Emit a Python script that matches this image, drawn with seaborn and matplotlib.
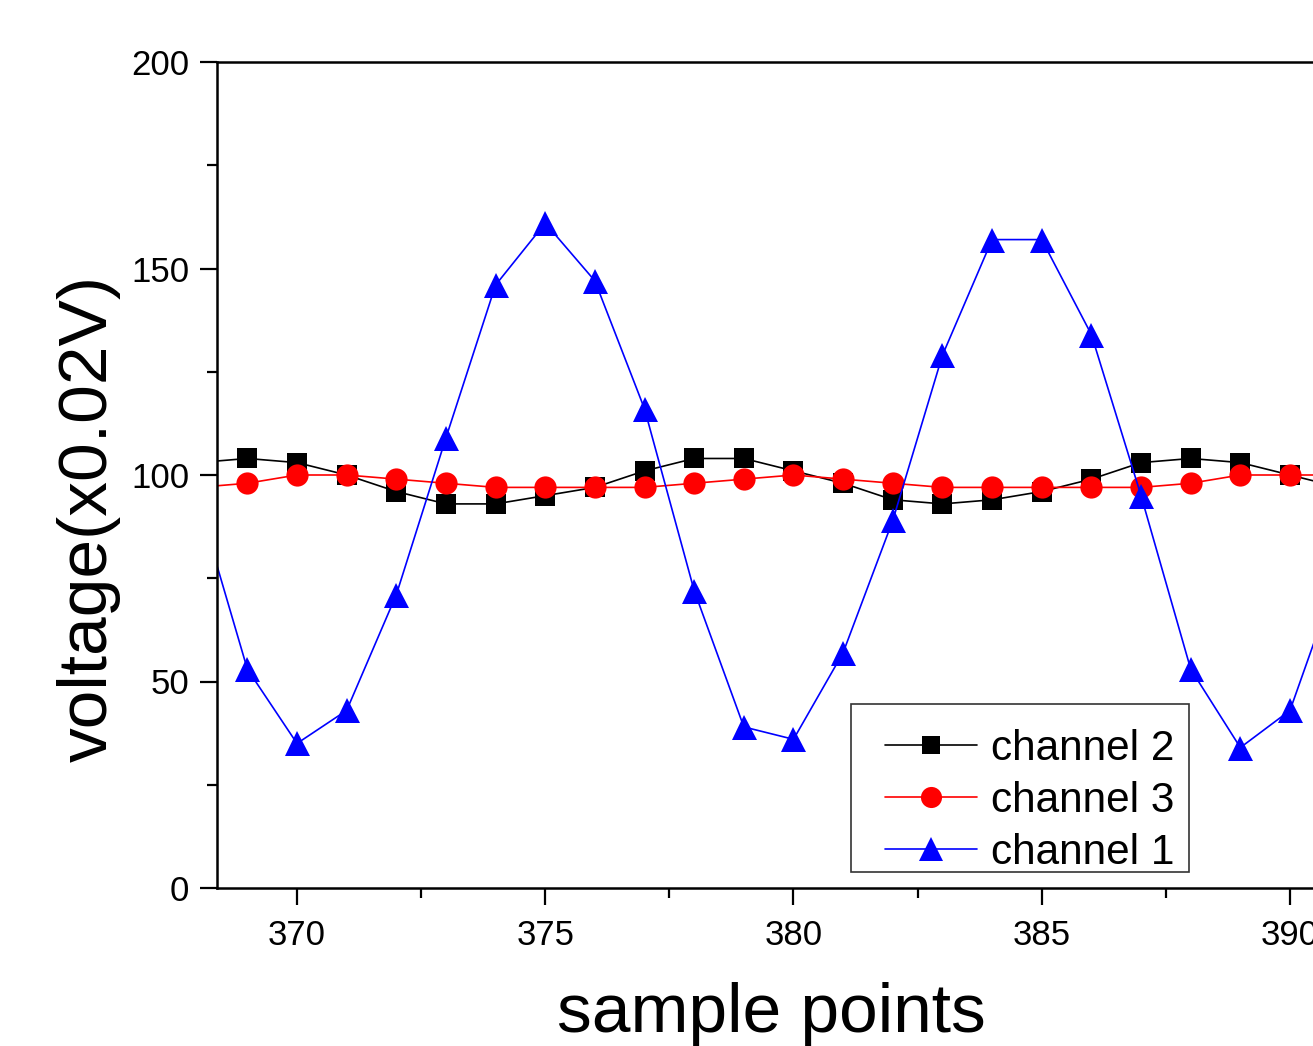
import numpy as np
import pandas as pd
import matplotlib
matplotlib.use("Agg")
import matplotlib.pyplot as plt
import seaborn as sns
from matplotlib.ticker import MultipleLocator
from matplotlib.lines import Line2D
from matplotlib.patches import Rectangle
from matplotlib.legend_handler import HandlerLine2D

sample_points = list(range(368, 392))
channel_2 = [103, 104, 103, 100, 96, 93, 93, 95, 97, 101, 104, 104,
             101, 98, 94, 93, 94, 96, 99, 103, 104, 103, 100, 97]
channel_3 = [97, 98, 100, 100, 99, 98, 97, 97, 97, 97, 98, 99,
             100, 99, 98, 97, 97, 97, 97, 97, 98, 100, 100, 100]
channel_1 = [94, 53, 35, 43, 71, 109, 146, 161, 147, 116, 72, 39,
             36, 57, 89, 129, 157, 157, 134, 95, 53, 34, 43, 77]

sns.set_theme(style="ticks")
plt.rcParams['font.family'] = ['Liberation Sans', 'DejaVu Sans']
plt.rcParams['text.color'] = 'black'
plt.rcParams['axes.labelcolor'] = 'black'
plt.rcParams['xtick.color'] = 'black'
plt.rcParams['ytick.color'] = 'black'

W, H = 1313, 1046
fig = plt.figure(figsize=(W / 100, H / 100), dpi=100)
ax_left, ax_right, ax_top, ax_bottom = 217, 1340, 62, 888
AW, AH = ax_right - ax_left, ax_bottom - ax_top
ax = fig.add_axes([ax_left / W, 1 - ax_bottom / H, AW / W, AH / H])

px_per_unit = (1290 - 297) / 20.0
xmin = 370 - (297 - ax_left) / px_per_unit
xmax = xmin + AW / px_per_unit

sns.lineplot(x=sample_points, y=channel_2, ax=ax, color='black', lw=1.2,
             marker='s', markersize=14, markeredgewidth=0, label='channel 2')
sns.lineplot(x=sample_points, y=channel_3, ax=ax, color='red', lw=1.2,
             marker='o', markersize=16, markeredgewidth=0, label='channel 3')
sns.lineplot(x=sample_points, y=channel_1, ax=ax, color='blue', lw=1.2,
             marker='^', markersize=18, markeredgewidth=0, label='channel 1')

ax.set_xlim(xmin, xmax)
ax.set_ylim(0, 200)
ax.xaxis.set_major_locator(MultipleLocator(5))
ax.xaxis.set_minor_locator(MultipleLocator(2.5))
ax.yaxis.set_major_locator(MultipleLocator(50))
ax.yaxis.set_minor_locator(MultipleLocator(25))
ax.tick_params(axis='both', which='major', direction='out', length=12,
               width=1.6, labelsize=25, color='black', labelcolor='black')
ax.tick_params(axis='x', which='major', pad=10)
ax.tick_params(axis='y', which='major', pad=8)
ax.tick_params(axis='both', which='minor', direction='out', length=7,
               width=1.6, color='black')

for side in ['left', 'bottom', 'top', 'right']:
    ax.spines[side].set_color('black')
    ax.spines[side].set_linewidth(1.8)

ax.set_xlabel('sample points', fontsize=50, color='black')
ax.set_ylabel('voltage(x0.02V)', fontsize=50, color='black')
ax.xaxis.set_label_coords((771 - ax_left) / AW, -(1032 - ax_bottom) / AH)
ax.xaxis.label.set_va('baseline')
ax.yaxis.set_label_coords(-(ax_left - 107) / AW, (ax_bottom - 518) / AH)
ax.yaxis.label.set_va('baseline')

# legend frame drawn separately so the entries can sit where the reference has them
frame = Rectangle(((851 - ax_left) / AW, (ax_bottom - 872) / AH),
                  (1189 - 851) / AW, (872 - 704) / AH,
                  transform=ax.transAxes, facecolor='white',
                  edgecolor='#333333', linewidth=1.2, clip_on=False, zorder=5)
ax.add_patch(frame)

fs = 30.5
fs_px = fs * 100 / 72
leg = ax.legend(loc='lower left',
                bbox_to_anchor=((851 - ax_left) / AW, (ax_bottom - 885) / AH),
                borderaxespad=0, fontsize=fs, frameon=False,
                handlelength=114 / fs_px, handletextpad=14 / fs_px,
                labelspacing=12 / fs_px, borderpad=12 / fs_px,
                markerscale=0.95,
                handler_map={Line2D: HandlerLine2D(xpad=22 / fs_px)})
leg.set_zorder(6)
for t in leg.get_texts():
    t.set_color('black')

fig.savefig('out.png', dpi=100)
